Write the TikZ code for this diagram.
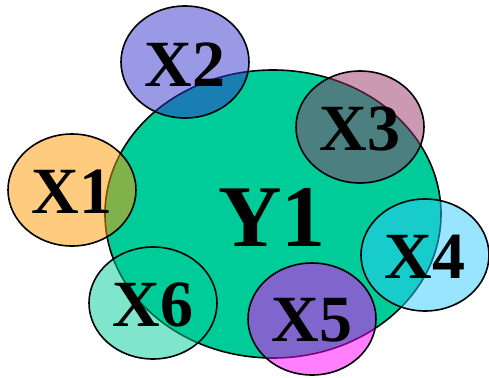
\documentclass[tikz,border=0pt]{standalone}
\usepackage{fontspec}
\setmainfont{Liberation Serif}
\begin{document}
\begin{tikzpicture}[x=1pt,y=-1pt,
  blob/.style={draw=black, line width=1.6pt, fill opacity=0.5, draw opacity=1},
  lbl/.style={font=\bfseries\fontsize{66}{66}\selectfont, inner sep=0pt, text=black},
  biglbl/.style={font=\bfseries\fontsize{88}{88}\selectfont, inner sep=0pt, text=black}]
\useasboundingbox (0,0) rectangle (489,377);
\definecolor{cY}{HTML}{00CC99}
\definecolor{cA}{HTML}{FF9900}
\definecolor{cB}{HTML}{3333CC}
\definecolor{cC}{HTML}{993366}
\definecolor{cD}{HTML}{33CCFF}
\definecolor{cE}{HTML}{FF00FF}
\definecolor{cF}{HTML}{00CC99}
% Y1
\draw[line width=1.6pt, fill=cY] (273,214) ellipse [x radius=168, y radius=144];
% X ellipses
\draw[blob, fill=cA] (72,190) ellipse [x radius=64, y radius=56];
\draw[blob, fill=cB] (185,62) ellipse [x radius=64, y radius=56];
\draw[blob, fill=cC] (360,127) ellipse [x radius=64, y radius=56];
\draw[blob, fill=cD] (425,255) ellipse [x radius=64, y radius=56];
\draw[blob, fill=cE] (312,319) ellipse [x radius=64, y radius=56];
\draw[blob, fill=cF] (153,303) ellipse [x radius=64, y radius=56];
% labels
\node[biglbl] (y1) at (272,217) {Y1};
\node[lbl] (x1) at (72,192) {X1};
\node[lbl] (x2) at (185,65) {X2};
\node[lbl] (x3) at (360,129) {X3};
\node[lbl] (x4) at (425,257) {X4};
\node[lbl] (x5) at (312,320) {X5};
\node[lbl] (x6) at (153,305) {X6};
\end{tikzpicture}
\end{document}
